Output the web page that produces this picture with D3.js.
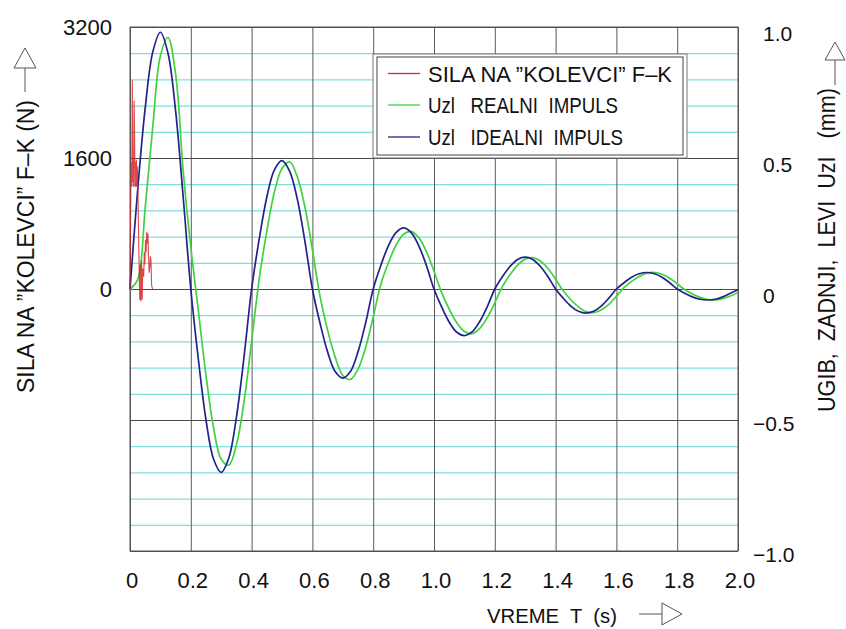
<!DOCTYPE html>
<html><head><meta charset="utf-8">
<script src="https://cdn.jsdelivr.net/npm/d3@7"></script>
<style>
body{margin:0;background:#fff}
svg{display:block}
text{font-family:"Liberation Sans",Arial,sans-serif;fill:#111}
.lab text{font-size:22px}
.labR text{font-size:21px}
</style>
</head><body><svg id="c" width="846" height="629"></svg>
<script>
// ---------- data ----------
const tGrid = [0,0.025,0.05,0.075,0.1,0.125,0.15,0.175,0.2,0.225,0.25,0.275,0.3,0.325,0.35,0.375,
0.4,0.425,0.45,0.475,0.5,0.525,0.55,0.575,0.6,0.625,0.65,0.675,0.7,0.725,0.75,0.775,
0.8,0.825,0.85,0.875,0.9,0.925,0.95,0.975,1.0,1.025,1.05,1.075,1.1,1.125,1.15,1.175,
1.2,1.225,1.25,1.275,1.3,1.325,1.35,1.375,1.4,1.425,1.45,1.475,1.5,1.525,1.55,1.575,
1.6,1.625,1.65,1.675,1.7,1.725,1.75,1.775,1.8,1.825,1.85,1.875,1.9,1.925,1.95,1.975,2.0];

// Uzl IDEALNI IMPULS (mm)
const idealU = [0,0.375,0.69,0.905,0.98,0.90,0.68,0.35,
0,-0.27,-0.50,-0.65,-0.70,-0.645,-0.49,-0.26,
0,0.19,0.35,0.455,0.49,0.45,0.345,0.185,
0,-0.13,-0.24,-0.315,-0.34,-0.315,-0.24,-0.13,
0,0.09,0.165,0.215,0.233,0.215,0.165,0.09,
0,-0.068,-0.126,-0.165,-0.178,-0.164,-0.125,-0.068,
0,0.047,0.086,0.113,0.122,0.113,0.086,0.047,
0,-0.035,-0.065,-0.085,-0.092,-0.085,-0.065,-0.035,
0,0.024,0.045,0.058,0.063,0.058,0.045,0.024,
0,-0.016,-0.03,-0.039,-0.042,-0.039,-0.03,-0.016,
-0.003];

// Uzl REALNI IMPULS (mm)
const realU = [0,0.035,0.31,0.62,0.89,0.96,0.82,0.45,
0.16,-0.084,-0.33,-0.53,-0.65,-0.672,-0.595,-0.43,
-0.20,0.038,0.22,0.37,0.46,0.485,0.43,0.315,
0.15,-0.027,-0.157,-0.26,-0.33,-0.345,-0.307,-0.224,
-0.107,0.017,0.10,0.167,0.209,0.22,0.196,0.143,
0.068,-0.013,-0.077,-0.129,-0.162,-0.17,-0.151,-0.11,
-0.053,0.009,0.054,0.091,0.114,0.12,0.107,0.078,
0.037,-0.007,-0.041,-0.068,-0.086,-0.09,-0.08,-0.059,
-0.028,0.005,0.029,0.048,0.06,0.063,0.056,0.041,
0.02,-0.003,-0.019,-0.032,-0.04,-0.042,-0.037,-0.027,
-0.013];

// SILA NA "KOLEVCI" F-K (N)
const forceT = [0,0.002,0.003,0.0045,0.006,0.0075,0.009,0.0105,0.012,0.0135,0.015,0.0165,0.018,0.0195,
0.021,0.0225,0.024,0.026,0.029,0.032,0.034,0.036,0.038,0.040,0.042,0.045,0.047,0.049,0.051,0.053,
0.055,0.057,0.059,0.061,0.063,0.065,0.067,0.069,0.071,0.074];
const forceF = [0,930,1300,1550,1250,2550,1300,1600,1250,2300,1900,1250,1550,1250,
1580,1250,1500,1200,500,-130,300,-150,350,-130,250,150,450,300,600,450,
700,550,680,400,200,250,400,350,50,0];

const xTicks = [0,0.2,0.4,0.6,0.8,1.0,1.2,1.4,1.6,1.8,2.0];
const leftTicks = [0,1600,3200];
const rightTicks = [-1,-0.5,0,0.5,1];
const minorTicks = [-0.9,-0.8,-0.7,-0.6,-0.4,-0.3,-0.2,-0.1,0.1,0.2,0.3,0.4,0.6,0.7,0.8,0.9];

const legendLabels = ["SILA NA \u201DKOLEVCI\u201D F\u2013K","Uzl   REALNI  IMPULS","Uzl   IDEALNI  IMPULS"];
const legendColors = ["#d42828","#3fd33f","#22228c"];

// ---------- chart ----------
const svg = d3.select("#c");
const L=130,R=738,T=27,B=551;
const x = d3.scaleLinear().domain([0,2]).range([L,R]);
const yR = d3.scaleLinear().domain([-1,1]).range([B,T]);
const yL = d3.scaleLinear().domain([-3200,3200]).range([B,T]);

function clean(g){g.select(".domain").remove();}

// minor cyan grid
svg.append("g").attr("transform",`translate(${L},0)`)
  .call(d3.axisLeft(yR).tickValues(minorTicks).tickSize(-(R-L)).tickFormat(""))
  .call(clean)
  .selectAll("line").attr("stroke","#82dede").attr("stroke-width",1.2);
// vertical grid
svg.append("g").attr("transform",`translate(0,${B})`)
  .call(d3.axisBottom(x).tickValues(xTicks).tickSize(-(B-T)).tickFormat(""))
  .call(clean)
  .selectAll("line").attr("stroke","#5a5a5a").attr("stroke-width",1);
// major horizontal grid
svg.append("g").attr("transform",`translate(${L},0)`)
  .call(d3.axisLeft(yR).tickValues(rightTicks).tickSize(-(R-L)).tickFormat(""))
  .call(clean)
  .selectAll("line").attr("stroke","#4a4a4a").attr("stroke-width",1);
// frame
svg.append("rect").attr("x",L).attr("y",T).attr("width",R-L).attr("height",B-T)
  .attr("fill","none").attr("stroke","#555").attr("stroke-width",1);

// curves
const lineU = d3.line().x((d,i)=>x(tGrid[i])).y(d=>yR(d)).curve(d3.curveCatmullRom.alpha(0.5));
svg.append("path").datum(realU).attr("d",lineU).attr("fill","none")
  .attr("stroke",legendColors[1]).attr("stroke-width",1.7);
svg.append("path").datum(idealU).attr("d",lineU).attr("fill","none")
  .attr("stroke",legendColors[2]).attr("stroke-width",1.7);
const lineF = d3.line().x((d,i)=>x(forceT[i])).y(d=>yL(d));
svg.append("path").datum(forceF).attr("d",lineF).attr("fill","none")
  .attr("stroke",legendColors[0]).attr("stroke-width",1.1).attr("stroke-opacity",0.85);

// axes labels
const gl = svg.append("g").attr("class","lab").attr("transform",`translate(${L},0)`)
  .call(d3.axisLeft(yL).tickValues(leftTicks).tickSize(0).tickPadding(18).tickFormat(d=>String(d)))
  .call(clean);
const gr = svg.append("g").attr("class","labR").attr("transform",`translate(${R},0)`)
  .call(d3.axisRight(yR).tickValues(rightTicks).tickSize(0).tickPadding(25)
    .tickFormat(d=> d===0 ? "0" : (d<0?"\u2212":"")+Math.abs(d).toFixed(1)))
  .call(clean);
gr.selectAll("text").attr("dy",d=> d<0 ? "10px" : "13px").attr("dx",d=> d<0 ? -10 : 0);
const gb = svg.append("g").attr("class","lab").attr("transform",`translate(0,${B})`)
  .call(d3.axisBottom(x).tickValues(xTicks).tickSize(0).tickPadding(21)
    .tickFormat(d=> d===0 ? "0" : d.toFixed(1)))
  .call(clean);
gb.selectAll("text").attr("dx",1.5);

// titles
svg.append("text").attr("transform","translate(33.5,393) rotate(-90)")
  .attr("font-size",23).attr("textLength",293).attr("lengthAdjust","spacingAndGlyphs")
  .style("white-space","pre").text("SILA NA \u201DKOLEVCI\u201D F\u2013K (N)");
svg.append("text").attr("transform","translate(835,412) rotate(-90)")
  .attr("font-size",23).attr("textLength",324).attr("lengthAdjust","spacingAndGlyphs")
  .style("white-space","pre").text("UGIB,  ZADNJI,  LEVI  UzI   (mm)");
svg.append("text").attr("x",487).attr("y",623)
  .attr("font-size",21).attr("textLength",130).attr("lengthAdjust","spacingAndGlyphs")
  .style("white-space","pre").text("VREME  T  (s)");

// arrows
const arrowStroke = "#555";
svg.append("line").attr("x1",25).attr("x2",25).attr("y1",92).attr("y2",68).attr("stroke",arrowStroke);
svg.append("path").attr("d","M25,48 L14,68 L36,68 Z").attr("fill","#fff").attr("stroke",arrowStroke);
svg.append("line").attr("x1",835).attr("x2",835).attr("y1",85).attr("y2",60).attr("stroke",arrowStroke);
svg.append("path").attr("d","M835,42 L825,60 L845,60 Z").attr("fill","#fff").attr("stroke",arrowStroke);
svg.append("line").attr("x1",639).attr("x2",662).attr("y1",614).attr("y2",614).attr("stroke",arrowStroke);
svg.append("path").attr("d","M682,614 L662,603 L662,625 Z").attr("fill","#fff").attr("stroke",arrowStroke);

// legend
svg.append("rect").attr("x",373).attr("y",54).attr("width",314).attr("height",104)
  .attr("fill","#fff").attr("stroke","#777").attr("stroke-width",1);
svg.append("rect").attr("x",377).attr("y",57).attr("width",306).attr("height",98)
  .attr("fill","none").attr("stroke","#444").attr("stroke-width",1);
const legLen = [244,190,195];
const leg = svg.append("g").selectAll("g").data(legendLabels).join("g")
  .attr("transform",(d,i)=>`translate(0,${[73.5,105,137][i]})`);
leg.append("line").attr("x1",388).attr("x2",420).attr("y1",0).attr("y2",0)
  .attr("stroke",(d,i)=>legendColors[i]).attr("stroke-width",1.3);
leg.append("text").attr("x",428).attr("y",8).attr("font-size",22)
  .attr("textLength",(d,i)=>legLen[i]).attr("lengthAdjust","spacingAndGlyphs")
  .style("white-space","pre").text(d=>d);
</script>
</body></html>
